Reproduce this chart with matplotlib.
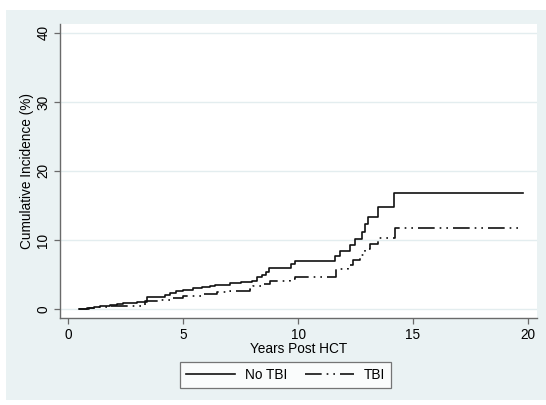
import matplotlib
matplotlib.use("Agg")
import matplotlib.pyplot as plt
from matplotlib.patches import Rectangle

# Data (step functions, cumulative incidence %)
no_tbi_t = [0.48, 0.8, 1.1, 1.4, 1.8, 2.1, 2.4, 3.0, 3.44, 3.75, 4.2, 4.43, 4.7, 5.0, 5.41,
            5.8, 6.17, 6.4, 7.04, 7.5, 7.98, 8.2, 8.42, 8.6, 8.75, 9.68, 9.87, 11.61, 11.83,
            12.26, 12.48, 12.77, 12.92, 13.06, 13.5, 14.19, 19.81]
no_tbi_y = [0, 0.15, 0.3, 0.45, 0.6, 0.7, 0.85, 0.95, 1.7, 1.75, 2.05, 2.35, 2.6, 2.8, 3.05,
            3.2, 3.3, 3.5, 3.75, 3.85, 4.1, 4.6, 5.0, 5.4, 5.9, 6.5, 7.0, 7.65, 8.45,
            9.3, 10.15, 11.1, 12.3, 13.35, 14.8, 16.75, 16.75]

tbi_t = [0.48, 0.9, 1.3, 1.8, 3.34, 3.99, 4.57, 5.0, 5.86, 6.46, 7.04, 7.9, 8.05, 8.49, 8.78,
         9.65, 9.87, 11.65, 12.19, 12.41, 12.7, 12.92, 13.13, 13.5, 14.2, 19.81]
tbi_y = [0, 0.15, 0.3, 0.48, 1.1, 1.35, 1.6, 1.9, 2.2, 2.4, 2.55, 2.94, 3.3, 3.6, 4.0,
         4.35, 4.7, 5.8, 6.4, 7.1, 7.9, 8.7, 9.4, 10.3, 11.7, 11.7]

x_ticks = [0, 5, 10, 15, 20]
y_ticks = [0, 10, 20, 30, 40]
series_labels = ["No TBI", "TBI"]

W, H = 546, 405
fig = plt.figure(figsize=(W / 100, H / 100), dpi=100, facecolor="white")
plt.rcParams['font.family'] = ['Liberation Sans', 'DejaVu Sans']

bg = "#EAF2F3"
fig.patches.append(Rectangle((6 / W, 1 - 400 / H), 540 / W, 390 / H,
                             transform=fig.transFigure, facecolor=bg,
                             edgecolor="none", zorder=-10))

ax = fig.add_axes([60 / W, 1 - 318 / H, (537 - 60) / W, (318 - 24) / H])
ax.set_zorder(2)
ax.set_facecolor("white")

ax.step(no_tbi_t, no_tbi_y, where="post", color="#111111", lw=1.2,
        label=series_labels[0])
ax.step(tbi_t, tbi_y, where="post", color="#111111", lw=1.2,
        dashes=(10, 3, 1.0, 3, 1.0, 3), label=series_labels[1])

ax.set_xlim(-0.36, 20.4)
ax.set_ylim(-1.3, 41.3)
ax.set_xticks(x_ticks)
ax.set_yticks(y_ticks)
ax.set_yticklabels([str(v) for v in y_ticks], rotation=90, va="center")
ax.grid(axis="y", color="#E3EDEF", lw=1.0)
ax.set_axisbelow(True)

for s in ["top", "right"]:
    ax.spines[s].set_visible(False)
for s in ["left", "bottom"]:
    ax.spines[s].set_color("#6a6a6a")
    ax.spines[s].set_linewidth(1.0)

ax.tick_params(axis="both", direction="out", length=4, width=0.9, color="#6a6a6a",
               labelsize=9.8, labelcolor="black")
ax.tick_params(axis="y", pad=3)
ax.tick_params(axis="x", pad=3)

ax.set_xlabel("Years Post HCT", fontsize=9.8, labelpad=0)
ax.set_ylabel("Cumulative Incidence (%)", fontsize=9.8, labelpad=1.5)

leg = fig.legend(loc="center", bbox_to_anchor=(285.5 / W, 1 - 375 / H), ncol=2,
                 fontsize=9.8, frameon=True, fancybox=False, handlelength=3.6,
                 handletextpad=0.7, columnspacing=1.3, borderpad=0.45)
leg.set_zorder(3)
leg.get_frame().set_edgecolor("#555555")
leg.get_frame().set_linewidth(0.9)
leg.get_frame().set_facecolor("white")

fig.savefig("out.png", dpi=100, facecolor="white")
